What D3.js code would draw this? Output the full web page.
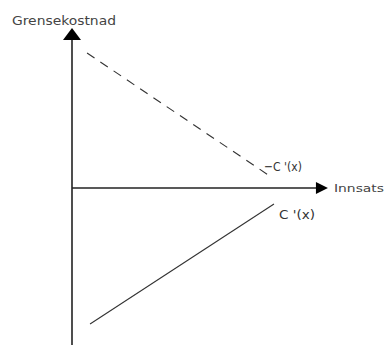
<!DOCTYPE html>
<html><head><meta charset="utf-8">
<script src="https://cdn.jsdelivr.net/npm/d3@7"></script>
<style>body{margin:0;background:#fff}svg{display:block}</style>
</head><body>
<script>
// Data (in chart units)
const xAxisRange = [0, 10.2];
const yAxisRange = [-6.3, 6.4];
const negMarginalX = [0.6, 8.0];
const negMarginalY = [5.4, 0.4];
const marginalX = [0.72, 8.05];
const marginalY = [-5.44, -0.64];
const labels = {y: "Grensekostnad", x: "Innsats", neg: "\u2212C '(x)", pos: "C '(x)"};

const W = 386, H = 345;
const svg = d3.select("body").append("svg").attr("width", W).attr("height", H);
const x = d3.scaleLinear().domain([0, 10]).range([72, 328 - 5.1]);
const y = d3.scaleLinear().domain([-6, 6]).range([338, 38]);

const ink = "#222";
// axes
svg.append("line").attr("x1", x(0)).attr("x2", x(0)).attr("y1", y(yAxisRange[0])).attr("y2", y(yAxisRange[1]) + 10)
  .attr("stroke", ink).attr("stroke-width", 1.6);
svg.append("path").attr("d", `M${x(0)},${y(yAxisRange[1])} L${x(0)-9},${y(yAxisRange[1])+12} L${x(0)+9},${y(yAxisRange[1])+12}Z`).attr("fill", "#000");
svg.append("line").attr("x1", x(0)).attr("x2", x(xAxisRange[1]) - 10).attr("y1", y(0)).attr("y2", y(0))
  .attr("stroke", ink).attr("stroke-width", 1.6);
svg.append("path").attr("d", `M${x(xAxisRange[1])},${y(0)} L${x(xAxisRange[1])-12},${y(0)-6} L${x(xAxisRange[1])-12},${y(0)+6}Z`).attr("fill", "#000");

const line = d3.line().x(d => x(d[0])).y(d => y(d[1]));
svg.append("path").attr("d", line(d3.zip(negMarginalX, negMarginalY))).attr("fill", "none")
  .attr("stroke", "#333").attr("stroke-width", 1.1).attr("stroke-dasharray", "9,7");
svg.append("path").attr("d", line(d3.zip(marginalX, marginalY))).attr("fill", "none")
  .attr("stroke", "#333").attr("stroke-width", 1.1);

const tf = "'DejaVu Sans Condensed', 'DejaVu Sans', sans-serif";
svg.append("text").attr("x", 12).attr("y", 25).text(labels.y).attr("font-family", tf).attr("font-size", 12)
  .attr("fill", "#444").attr("textLength", 104).attr("lengthAdjust", "spacingAndGlyphs");
svg.append("text").attr("x", 334).attr("y", 192).text(labels.x).attr("font-family", tf).attr("font-size", 11)
  .attr("fill", "#444").attr("textLength", 50).attr("lengthAdjust", "spacingAndGlyphs");
svg.append("text").attr("x", 264).attr("y", 171).text(labels.neg).attr("font-family", tf).attr("font-size", 13)
  .attr("fill", "#333").attr("textLength", 38).attr("lengthAdjust", "spacingAndGlyphs");
svg.append("text").attr("x", 279).attr("y", 219).text(labels.pos).attr("font-family", tf).attr("font-size", 13)
  .attr("fill", "#333").attr("textLength", 36).attr("lengthAdjust", "spacingAndGlyphs");
</script>
</body></html>
